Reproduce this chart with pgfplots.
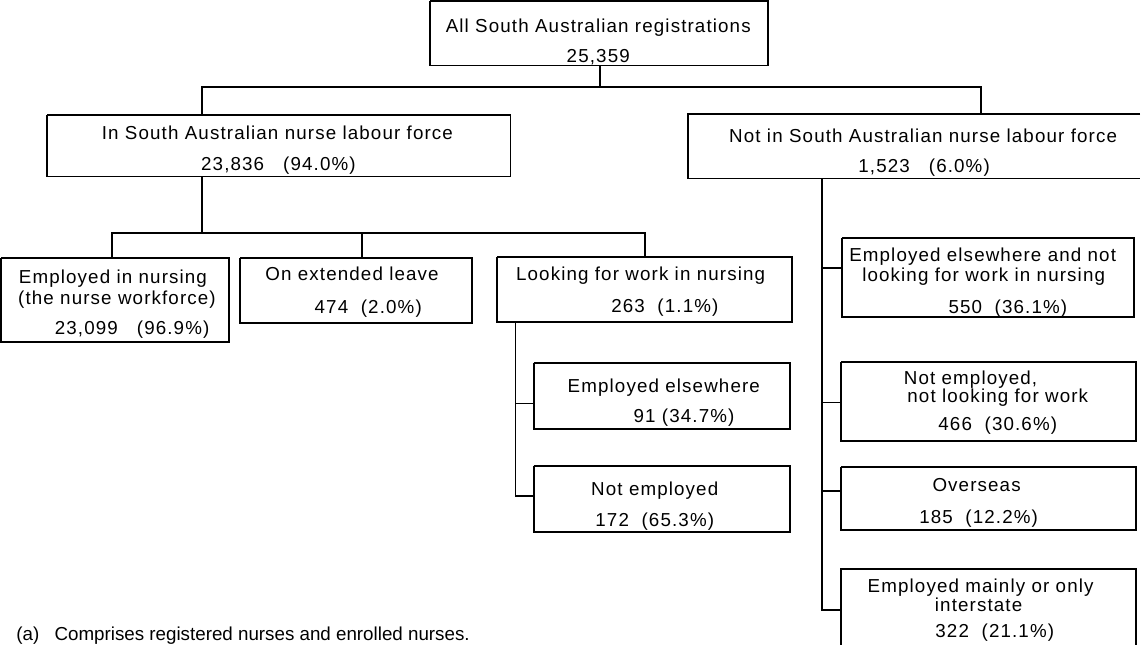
\documentclass[border=0pt]{standalone}
\usepackage{pgfplots}
\pgfplotsset{compat=1.18}
\usepackage{fontspec}
\setmainfont{Liberation Sans}
\newfontfamily\boxfam[LetterSpace=6]{Liberation Sans}
\newcommand\boxfont{\boxfam\fontsize{9.3}{11}\selectfont}
\newcommand\T[3]{\node[anchor=base, inner sep=0pt, font=\boxfont] at (axis cs:#1,#2) {#3};}
\begin{document}
\begin{tikzpicture}
\begin{axis}[
  width=570.5pt, height=323.5pt, scale only axis,
  xmin=0, xmax=1141, ymin=0, ymax=647, y dir=reverse,
  hide axis, clip=false,
  ln/.style={black, solid, line width=0.95pt, mark=none},
]
% ---- boxes ----
\addplot[ln] coordinates {(437,9) (772,9) (772,73) (437,73) (437,9)};
\addplot[ln] coordinates {(58,122) (517,122) (517,183) (58,183) (58,122)};
\addplot[ln] coordinates {(1141,121) (693,121) (693,185) (1141,185)};
\addplot[ln] coordinates {(12,264) (238,264) (238,347) (12,347) (12,264)};
\addplot[ln] coordinates {(249,264) (479,264) (479,328) (249,328) (249,264)};
\addplot[ln] coordinates {(504,263) (796,263) (796,327) (504,327) (504,263)};
\addplot[ln] coordinates {(540,368) (794,368) (794,433) (540,433) (540,368)};
\addplot[ln] coordinates {(540,470) (794,470) (794,535) (540,535) (540,470)};
\addplot[ln] coordinates {(846,244) (1135,244) (1135,322) (846,322) (846,244)};
\addplot[ln] coordinates {(845,367) (1137,367) (1137,445) (845,445) (845,367)};
\addplot[ln] coordinates {(845,471) (1137,471) (1137,533) (845,533) (845,471)};
\addplot[ln] coordinates {(845,647) (845,572) (1137,572) (1137,647)};
% ---- connectors ----
\addplot[ln] coordinates {(606,73) (606,94)};
\addplot[ln] coordinates {(211,122) (211,94) (983,94) (983,121)};
\addplot[ln] coordinates {(211,183) (211,239)};
\addplot[ln] coordinates {(122,264) (122,239) (650,239) (650,263)};
\addplot[ln] coordinates {(370,239) (370,264)};
\addplot[ln] coordinates {(522,327) (522,500) (540,500)};
\addplot[ln] coordinates {(522,408) (540,408)};
\addplot[ln] coordinates {(826,185) (826,613) (845,613)};
\addplot[ln] coordinates {(826,274) (846,274)};
\addplot[ln] coordinates {(826,407) (845,407)};
\addplot[ln] coordinates {(826,495) (845,495)};
% ---- text ----
\T{604}{40}{All South Australian registrations}
\T{604}{70}{25,359}
\T{286}{146}{In South Australian nurse labour force}
\T{287}{177}{23,836~~~(94.0\%)}
\T{926}{149}{Not in South Australian nurse labour force}
\T{927}{179}{1,523~~~(6.0\%)}
\T{123}{289.5}{Employed in nursing}
\T{127}{309.5}{(the nurse workforce)}
\T{142}{339.5}{23,099~~~(96.9\%)}
\T{360}{286}{On extended leave}
\T{376}{319}{474~~(2.0\%)}
\T{646}{286}{Looking for work in nursing}
\T{670}{318}{263~~(1.1\%)}
\T{669}{397}{Employed elsewhere}
\T{689}{427}{91 (34.7\%)}
\T{660}{499}{Not employed}
\T{660}{530}{172~~(65.3\%)}
\T{985}{267}{Employed elsewhere and not}
\T{986}{287}{looking for work in nursing}
\T{1010}{319}{550~~(36.1\%)}
\T{973}{389}{Not employed,}
\T{1000}{407}{not looking for work}
\T{1000}{435}{466~~(30.6\%)}
\T{979}{495}{Overseas}
\T{981}{527}{185~~(12.2\%)}
\T{983}{595}{Employed mainly or only}
\T{981}{614}{interstate}
\T{997}{640}{322~~(21.1\%)}
\node[anchor=base west, inner sep=0pt, font=\fontsize{9.3}{11}\selectfont] at (axis cs:27,643) {(a)\hspace{7.5pt}Comprises registered nurses and enrolled nurses.};
\end{axis}
\end{tikzpicture}
\end{document}
